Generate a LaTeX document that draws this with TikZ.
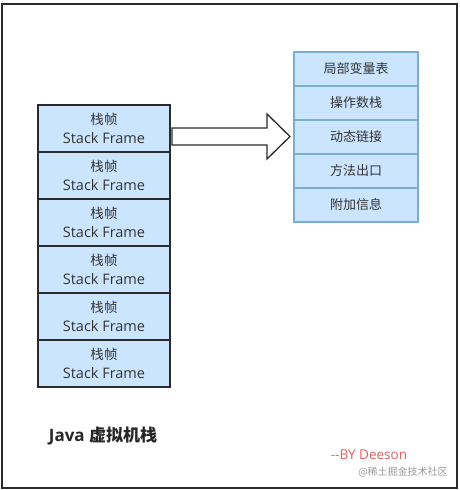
\documentclass[tikz,border=0pt]{standalone}
\usepackage{fontspec}
\setmainfont{Open Sans}
\newfontfamily\cjk{Noto Sans CJK SC}
\usepackage{xcolor}
\usetikzlibrary{positioning,calc}

\definecolor{framefill}{HTML}{CCE5FF}
\definecolor{darkline}{HTML}{2B2B2B}
\definecolor{paleline}{HTML}{7AAECF}
\definecolor{signred}{HTML}{E0605F}

\begin{document}
\begin{tikzpicture}[
    x=1pt, y=-1pt,
    stackframe/.style={rectangle, draw=darkline, line width=1.3pt, fill=framefill,
        minimum width=132pt, minimum height=47pt, inner sep=0pt, align=center,
        text=black!80, font=\fontsize{14.5}{19}\selectfont},
    framepart/.style={rectangle, draw=paleline, line width=1.3pt, fill=framefill,
        minimum width=124pt, minimum height=34pt, inner sep=0pt,
        text=black!80, font=\fontsize{13}{15}\selectfont\cjk}
]
\useasboundingbox (0,0) rectangle (460,490);
\draw[darkline, line width=1.6pt] (2,4) rectangle (457,488);

% Java stack: six stack frames
\foreach \i in {1,...,6}
    \node[stackframe] (f\i) at (104,{128.5+47*(\i-1)}) {{\cjk\fontsize{13.5}{19}\selectfont 栈帧}\\Stack Frame};

% contents of one stack frame
\node[framepart] (p1) at (356,69) {局部变量表};
\node[framepart, below=-1.3pt of p1] (p2) {操作数栈};
\node[framepart, below=-1.3pt of p2] (p3) {动态链接};
\node[framepart, below=-1.3pt of p3] (p4) {方法出口};
\node[framepart, below=-1.3pt of p4] (p5) {附加信息};

% block arrow
\coordinate (tail) at (172,136.5);
\coordinate (tip) at (290,136.5);
\draw[darkline, line width=1.3pt, fill=white, line join=miter]
    ($(tail)+(0,-8.5)$) -- ($(tip)+(-23,-8.5)$) -- ($(tip)+(-23,-22.5)$) -- (tip)
    -- ($(tip)+(-23,22.5)$) -- ($(tip)+(-23,8.5)$) -- ($(tail)+(0,8.5)$) -- cycle;

\node[font=\fontsize{17}{20}\selectfont\bfseries, text=black!85] (title) at (103,436)
    {Java {\cjk 虚拟机栈}};
\node[font=\fontsize{13.5}{15}\selectfont, text=signred] (sign) at (369,455) {{-}{-}BY Deeson};
\node[font=\fontsize{10}{12}\selectfont\cjk, text=black!40] (mark) at (403,472) {@稀土掘金技术社区};
\end{tikzpicture}
\end{document}
